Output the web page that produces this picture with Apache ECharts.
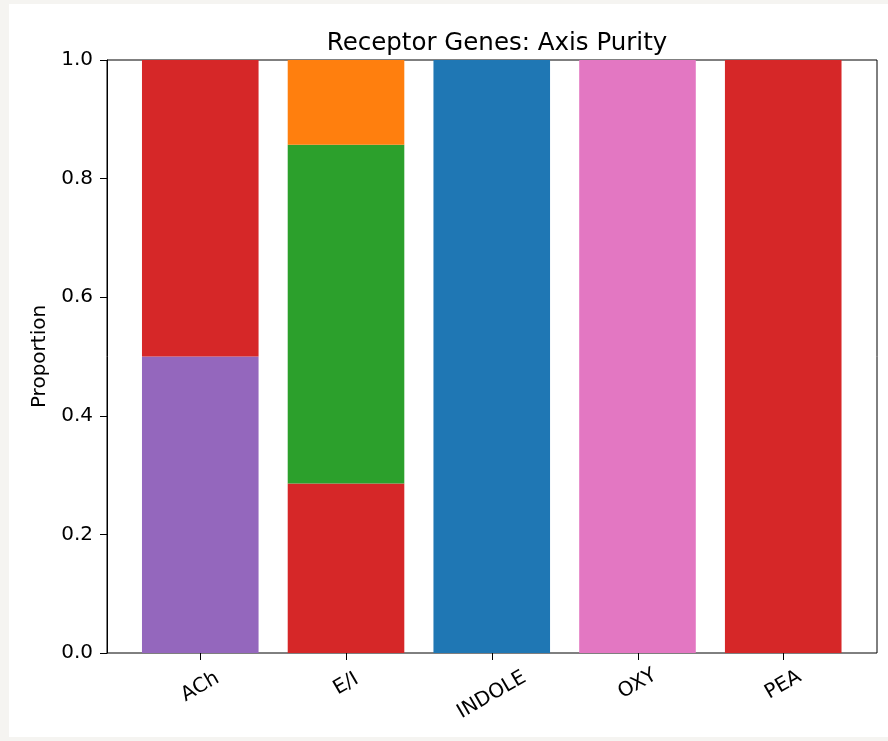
<!DOCTYPE html>
<html>
<head>
<meta charset="utf-8">
<script src="https://cdn.jsdelivr.net/npm/echarts@6/dist/echarts.min.js"></script>
<style>
	html, body { margin: 0; padding: 0; background: #f5f4f1; }
	#chart { position: absolute; left: 9px; top: 4px; width: 879px; height: 733px; background: #fff; }
</style>
</head>
<body>
<div id="chart"></div>
<script>
// categories on the x axis
var categories = ['ACh', 'E/I', 'INDOLE', 'OXY', 'PEA'];
// stacked segments, bottom to top (proportion of genes in each group)
var segPurple = [0.5, 0, 0, 0, 0];
var segRed = [0.5, 0.2857, 0, 0, 1];
var segGreen = [0, 0.5714, 0, 0, 0];
var segOrange = [0, 0.1429, 0, 0, 0];
var segBlue = [0, 0, 1, 0, 0];
var segPink = [0, 0, 0, 1, 0];

var layers = [
	{ data: segPurple, color: '#9467bd' },
	{ data: segRed, color: '#d62728' },
	{ data: segGreen, color: '#2ca02c' },
	{ data: segOrange, color: '#ff7f0e' },
	{ data: segBlue, color: '#1f77b4' },
	{ data: segPink, color: '#e377c2' }
];

var font = 'DejaVu Sans';
// rotated labels hang lower when longer (matplotlib aligns the top of the rotated box)
var labelDrop = [34, 31, 42, 31, 32];
var tickIdx = categories.map(function (c, i) { return i; });

var dom = document.getElementById('chart');
var myChart = echarts.init(dom);
var option = {
	animation: false,
	title: {
		text: 'Receptor Genes: Axis Purity',
		left: 483,
		top: 22,
		textAlign: 'center',
		textStyle: { fontFamily: font, fontSize: 24.5, fontWeight: 'normal', color: '#000' }
	},
	grid: [
		// inner grid: the category bands (matplotlib leaves margins at both ends)
		{ left: 118.4, right: 31.9, top: 56, bottom: 84, outerBoundsMode: 'none' },
		// outer grid: the axes frame
		{ left: 98, right: 11, top: 56, bottom: 84, outerBoundsMode: 'none', show: true, borderColor: '#000', borderWidth: 1, backgroundColor: 'transparent' }
	],
	xAxis: [],
	yAxis: [{
		type: 'value',
		gridIndex: 0,
		min: 0,
		max: 1,
		show: false
	}, {
		type: 'value',
		gridIndex: 1,
		min: 0,
		max: 1,
		interval: 0.2,
		name: 'Proportion',
		nameLocation: 'middle',
		nameGap: 55,
		nameTextStyle: { fontFamily: font, fontSize: 20, color: '#000' },
		splitLine: { show: false },
		axisLine: { show: true, onZero: false, lineStyle: { color: '#000', width: 1 } },
		axisTick: { show: true, length: 7, lineStyle: { color: '#000' } },
		axisLabel: {
			margin: 14,
			fontFamily: font,
			fontSize: 20,
			color: '#000',
			formatter: function (v) { return v.toFixed(1); }
		}
	}],
	series: []
};

// one category axis per label so each one can sit at its own distance
categories.forEach(function (c, k) {
	option.xAxis.push({
		type: 'category',
		gridIndex: 0,
		position: 'bottom',
		offset: 0,
		data: categories,
		axisLine: { show: false, onZero: false },
		axisTick: { show: false },
		axisLabel: {
			interval: function (idx) { return idx === k; },
			rotate: 30,
			align: 'center',
			verticalAlign: 'middle',
			margin: labelDrop[k],
			fontFamily: font,
			fontSize: 20,
			color: '#000'
		}
	});
});
// frame axis: same extent as the category bands plus matplotlib's margins, carries the ticks
option.xAxis.push({
	type: 'value',
	gridIndex: 1,
	min: -0.64,
	max: 4.64,
	splitLine: { show: false },
	axisLine: { show: false, onZero: false },
	axisTick: { show: true, length: 7, customValues: tickIdx, lineStyle: { color: '#000' } },
	axisLabel: { show: false }
});

for (var i = 0; i < layers.length; i++) {
	option.series.push({
		type: 'bar',
		stack: 'total',
		xAxisIndex: 0,
		yAxisIndex: 0,
		barWidth: '80%',
		data: layers[i].data,
		itemStyle: { color: layers[i].color },
		emphasis: { disabled: true }
	});
}
myChart.setOption(option);
window.addEventListener('resize', function () {
	myChart.resize();
});
</script>
</body>
</html>
